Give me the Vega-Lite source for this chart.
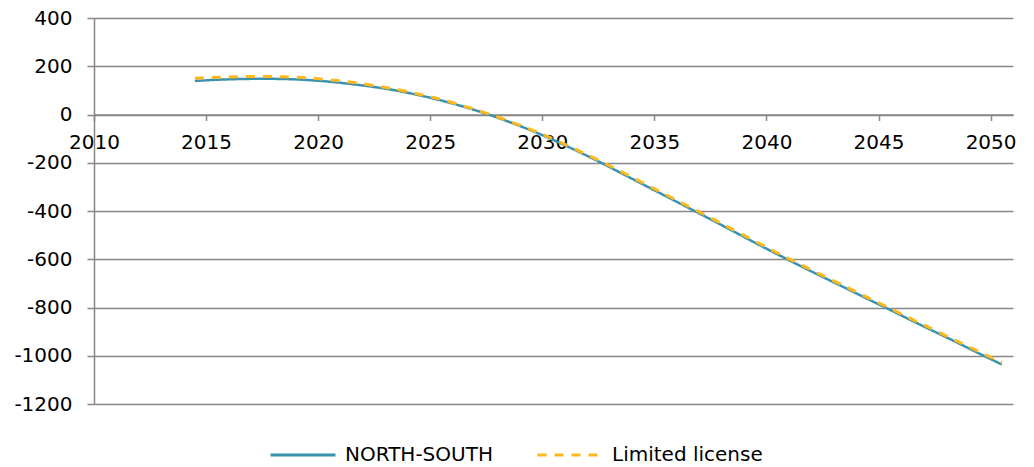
{
  "$schema": "https://vega.github.io/schema/vega-lite/v6.json",
  "width": 919,
  "height": 386,
  "autosize": {"type": "none"},
  "padding": {"left": 94, "top": 18, "right": 21, "bottom": 63},
  "background": "white",
  "config": {
    "view": {"stroke": null},
    "font": "DejaVu Sans",
    "axis": {
      "labelFont": "DejaVu Sans",
      "labelFontSize": 20,
      "labelColor": "#000000",
      "domainColor": "#878787",
      "domainWidth": 1.5,
      "tickColor": "#878787",
      "tickWidth": 1.5,
      "gridColor": "#878787",
      "gridWidth": 1.5,
      "title": null
    },
    "legend": {
      "labelFont": "DejaVu Sans",
      "labelFontSize": 20,
      "labelColor": "#000000"
    }
  },
  "datasets": {
    "balance": [
      {"year": 2014.5, "series": "NORTH-SOUTH", "value": 139},
      {"year": 2015.5, "series": "NORTH-SOUTH", "value": 144},
      {"year": 2016.5, "series": "NORTH-SOUTH", "value": 147},
      {"year": 2017.5, "series": "NORTH-SOUTH", "value": 148},
      {"year": 2018.5, "series": "NORTH-SOUTH", "value": 147},
      {"year": 2019.5, "series": "NORTH-SOUTH", "value": 143},
      {"year": 2020.5, "series": "NORTH-SOUTH", "value": 136},
      {"year": 2021.5, "series": "NORTH-SOUTH", "value": 126},
      {"year": 2022.5, "series": "NORTH-SOUTH", "value": 114},
      {"year": 2023.5, "series": "NORTH-SOUTH", "value": 99},
      {"year": 2024.5, "series": "NORTH-SOUTH", "value": 80},
      {"year": 2025.5, "series": "NORTH-SOUTH", "value": 58},
      {"year": 2026.5, "series": "NORTH-SOUTH", "value": 32},
      {"year": 2027.5, "series": "NORTH-SOUTH", "value": 3},
      {"year": 2028.5, "series": "NORTH-SOUTH", "value": -30},
      {"year": 2029.5, "series": "NORTH-SOUTH", "value": -66},
      {"year": 2030.5, "series": "NORTH-SOUTH", "value": -106},
      {"year": 2031.5, "series": "NORTH-SOUTH", "value": -149},
      {"year": 2032.5, "series": "NORTH-SOUTH", "value": -194},
      {"year": 2033.5, "series": "NORTH-SOUTH", "value": -242},
      {"year": 2034.5, "series": "NORTH-SOUTH", "value": -290},
      {"year": 2035.5, "series": "NORTH-SOUTH", "value": -338},
      {"year": 2036.5, "series": "NORTH-SOUTH", "value": -386},
      {"year": 2037.5, "series": "NORTH-SOUTH", "value": -434},
      {"year": 2038.5, "series": "NORTH-SOUTH", "value": -483},
      {"year": 2039.5, "series": "NORTH-SOUTH", "value": -532},
      {"year": 2040.5, "series": "NORTH-SOUTH", "value": -580},
      {"year": 2041.5, "series": "NORTH-SOUTH", "value": -627},
      {"year": 2042.5, "series": "NORTH-SOUTH", "value": -673},
      {"year": 2043.5, "series": "NORTH-SOUTH", "value": -718},
      {"year": 2044.5, "series": "NORTH-SOUTH", "value": -764},
      {"year": 2045.5, "series": "NORTH-SOUTH", "value": -809},
      {"year": 2046.5, "series": "NORTH-SOUTH", "value": -855},
      {"year": 2047.5, "series": "NORTH-SOUTH", "value": -900},
      {"year": 2048.5, "series": "NORTH-SOUTH", "value": -945},
      {"year": 2049.5, "series": "NORTH-SOUTH", "value": -991},
      {"year": 2050.5, "series": "NORTH-SOUTH", "value": -1036},
      {"year": 2014.5, "series": "Limited license", "value": 150},
      {"year": 2015.5, "series": "Limited license", "value": 154},
      {"year": 2016.5, "series": "Limited license", "value": 157},
      {"year": 2017.5, "series": "Limited license", "value": 158},
      {"year": 2018.5, "series": "Limited license", "value": 156},
      {"year": 2019.5, "series": "Limited license", "value": 152},
      {"year": 2020.5, "series": "Limited license", "value": 144},
      {"year": 2021.5, "series": "Limited license", "value": 134},
      {"year": 2022.5, "series": "Limited license", "value": 120},
      {"year": 2023.5, "series": "Limited license", "value": 104},
      {"year": 2024.5, "series": "Limited license", "value": 84},
      {"year": 2025.5, "series": "Limited license", "value": 62},
      {"year": 2026.5, "series": "Limited license", "value": 35},
      {"year": 2027.5, "series": "Limited license", "value": 6},
      {"year": 2028.5, "series": "Limited license", "value": -27},
      {"year": 2029.5, "series": "Limited license", "value": -63},
      {"year": 2030.5, "series": "Limited license", "value": -102},
      {"year": 2031.5, "series": "Limited license", "value": -145},
      {"year": 2032.5, "series": "Limited license", "value": -189},
      {"year": 2033.5, "series": "Limited license", "value": -236},
      {"year": 2034.5, "series": "Limited license", "value": -284},
      {"year": 2035.5, "series": "Limited license", "value": -332},
      {"year": 2036.5, "series": "Limited license", "value": -380},
      {"year": 2037.5, "series": "Limited license", "value": -428},
      {"year": 2038.5, "series": "Limited license", "value": -477},
      {"year": 2039.5, "series": "Limited license", "value": -526},
      {"year": 2040.5, "series": "Limited license", "value": -574},
      {"year": 2041.5, "series": "Limited license", "value": -621},
      {"year": 2042.5, "series": "Limited license", "value": -667},
      {"year": 2043.5, "series": "Limited license", "value": -712},
      {"year": 2044.5, "series": "Limited license", "value": -758},
      {"year": 2045.5, "series": "Limited license", "value": -803},
      {"year": 2046.5, "series": "Limited license", "value": -849},
      {"year": 2047.5, "series": "Limited license", "value": -894},
      {"year": 2048.5, "series": "Limited license", "value": -939},
      {"year": 2049.5, "series": "Limited license", "value": -984},
      {"year": 2050.5, "series": "Limited license", "value": -1028}
    ]
  },
  "data": {"name": "balance"},
  "encoding": {
    "x": {
      "field": "year",
      "type": "quantitative",
      "scale": {"domain": [2010, 2051], "nice": false, "zero": false},
      "axis": {
        "values": [2010, 2015, 2020, 2025, 2030, 2035, 2040, 2045, 2050],
        "labelExpr": "toString(datum.value)",
        "grid": false,
        "offset": -289.5,
        "tickSize": 6,
        "labelPadding": 12,
        "labelDx": 11,
        "labelFlush": false,
        "labelOverlap": false
      }
    },
    "y": {
      "field": "value",
      "type": "quantitative",
      "scale": {"domain": [-1200, 400], "nice": false},
      "axis": {
        "values": [-1200, -1000, -800, -600, -400, -200, 0, 200, 400],
        "labelExpr": "toString(datum.value)",
        "grid": true,
        "tickSize": 7,
        "labelPadding": 15
      }
    },
    "color": {
      "field": "series",
      "type": "nominal",
      "scale": {
        "domain": ["NORTH-SOUTH", "Limited license"],
        "range": ["#3A92AE", "#FFB81C"]
      },
      "legend": {
        "title": null,
        "orient": "none",
        "direction": "horizontal",
        "legendX": 175,
        "legendY": 403,
        "symbolType": "stroke",
        "symbolSize": 4225,
        "symbolStrokeWidth": 3,
        "labelOffset": 8,
        "columnPadding": 38
      }
    },
    "strokeDash": {
      "field": "series",
      "type": "nominal",
      "scale": {
        "domain": ["NORTH-SOUTH", "Limited license"],
        "range": [[1, 0], [9, 8]]
      },
      "legend": {
        "title": null,
        "orient": "none",
        "direction": "horizontal",
        "legendX": 175,
        "legendY": 403,
        "symbolType": "stroke",
        "symbolSize": 4225,
        "symbolStrokeWidth": 3,
        "labelOffset": 8,
        "columnPadding": 38
      }
    }
  },
  "layer": [
    {
      "transform": [{"filter": "datum.series === 'NORTH-SOUTH'"}],
      "mark": {"type": "line", "interpolate": "monotone", "strokeWidth": 2.5}
    },
    {
      "transform": [{"filter": "datum.series === 'Limited license'"}],
      "mark": {"type": "line", "interpolate": "monotone", "strokeWidth": 3}
    }
  ]
}
